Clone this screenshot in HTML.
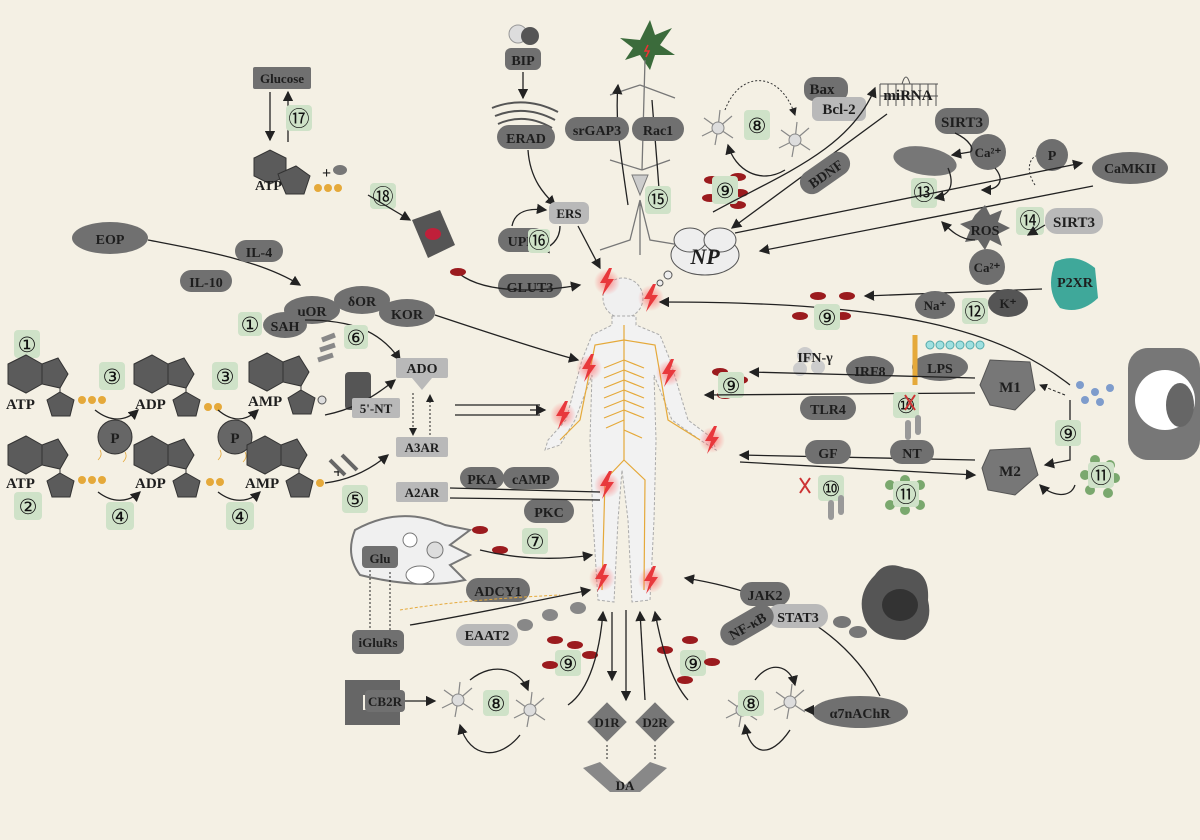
<!DOCTYPE html>
<html><head><meta charset="utf-8"><style>
html,body{margin:0;padding:0;background:#f4f0e4;}
svg{display:block}
text{font-family:"Liberation Serif",serif;font-weight:bold;fill:#1e1e1e;}
.pd{fill:#707070}
.pl{fill:#b9b9b9}
.g{fill:#cfe2c8}
.n{font-size:21px;font-weight:normal;fill:#111}
.a{stroke:#222;stroke-width:1.3;fill:none;marker-end:url(#ah)}
.l{stroke:#222;stroke-width:1.3;fill:none}
.rd{fill:#9b1b1e}
</style></head><body>
<svg width="1200" height="840" viewBox="0 0 1200 840" xmlns="http://www.w3.org/2000/svg">
<defs>
<marker id="ah" markerWidth="8" markerHeight="8" refX="7" refY="4" orient="auto"><path d="M0,0 L8,4 L0,8 z" fill="#222"/></marker>
<radialGradient id="glow"><stop offset="0" stop-color="#ff5a5a" stop-opacity=".7"/><stop offset="1" stop-color="#ff5a5a" stop-opacity="0"/></radialGradient>
<g id="bolt"><circle cx="0" cy="0" r="13" fill="url(#glow)"/><path d="M2,-14 L-7,1 L-1,1 L-5,14 L7,-3 L1,-3 L5,-14 z" fill="#e8383c"/></g>
<g id="nuc"><path d="M-18,-10 L0,-19 L16,-10 L16,10 L0,19 L-18,10z" fill="#5b5b5b" stroke="#333"/><path d="M16,-10 L32,-16 L42,0 L34,14 L16,10z" fill="#5b5b5b" stroke="#333"/><path d="M34,14 L34,22" stroke="#333"/><path d="M34,18 L48,26 L44,42 L26,42 L21,26z" fill="#5b5b5b" stroke="#333"/></g>
<g id="atp"><path d="M-16,-22 L0,-30 L16,-22 L16,-4 L0,4 L-16,-4z" fill="#5b5b5b" stroke="#333"/><path d="M8,-6 L26,-14 L40,-4 L34,14 L16,14 L10,0z" fill="#5b5b5b" stroke="#333"/></g>
<g id="rbc"><ellipse cx="0" cy="0" rx="8" ry="4" class="rd"/></g>
<g id="mg"><g stroke="#888" stroke-width="1.2" fill="none"><path d="M0,0 l-14,-10 M0,0 l14,-12 M0,0 l-16,8 M0,0 l15,10 M0,0 l2,-18 M0,0 l-3,17"/></g><circle r="6" fill="#ddd" stroke="#888"/></g>
</defs>
<rect width="1200" height="840" fill="#f4f0e4"/>

<!-- body -->
<g>
<circle cx="623" cy="298" r="20" fill="#f0f0f0" stroke="#aaa" stroke-dasharray="3 2"/>
<path d="M612,316 L612,325 L592,335 L582,360 L566,420 L548,440 L545,450 L560,445 L575,420 L592,375 L590,440 L593,520 L598,600 L614,602 L618,520 L622,470 L628,520 L632,602 L650,600 L654,520 L656,440 L654,375 L672,420 L700,440 L716,450 L712,438 L688,420 L670,360 L660,335 L636,325 L636,316 z" fill="#f2f2f2" stroke="#aaa" stroke-dasharray="3 2"/>
<g stroke="#e5a93a" stroke-width="1.2" fill="none">
<path d="M624,325 L624,460"/><path d="M624,340 L595,345 L580,420 L560,440"/><path d="M624,340 L655,345 L668,420 L700,440"/>
<path d="M624,460 L605,480 L602,590"/><path d="M624,460 L645,480 L644,590"/>
<path d="M624,360 l-20,8 M624,370 l20,8 M624,380 l-20,8 M624,390 l20,8 M624,400 l-20,8 M624,410 l20,8 M624,420 l-18,8 M624,430 l18,8 M624,360 l20,8 M624,380 l20,8 M624,400 l20,8 M624,370 l-20,8 M624,390 l-20,8 M624,410 l-20,8"/>
</g>
<use href="#bolt" x="607" y="282"/><use href="#bolt" x="651" y="298"/><use href="#bolt" x="589" y="368"/><use href="#bolt" x="669" y="373"/><use href="#bolt" x="563" y="415"/><use href="#bolt" x="712" y="440"/><use href="#bolt" x="607" y="485"/><use href="#bolt" x="602" y="578"/><use href="#bolt" x="651" y="580"/>
</g>

<!-- top neuron -->
<path d="M640,40 L650,20 L655,35 L672,28 L660,45 L675,55 L655,55 L650,70 L640,55 L625,60 L633,48 L620,38z" fill="#3b6b3b"/>
<path d="M648,45 l-3,6 l4,0 l-3,6" stroke="#e33" fill="none" stroke-width="1.5"/>
<g stroke="#777" fill="none" stroke-width="1.3"><path d="M645,60 L642,170 M642,170 L610,160 M642,170 L670,160 M640,85 L610,95 M640,85 L675,98 M640,200 L630,240 L600,250 M640,200 L650,240 L680,245 M640,200 L640,255"/></g>
<path d="M632,175 L648,175 L640,195z" fill="#ccc" stroke="#777"/>
<path class="a" d="M628,205 C620,150 615,120 618,85"/>
<path class="a" d="M652,100 C655,140 658,170 660,205"/>

<!-- BIP ERAD -->
<circle cx="518" cy="34" r="9" fill="#ddd" stroke="#999"/><circle cx="530" cy="36" r="9" fill="#555"/>
<rect x="505" y="48" width="36" height="22" rx="6" class="pd"/><text x="523" y="65" font-size="14" text-anchor="middle">BIP</text>
<path class="a" d="M523,72 L523,98"/>
<g stroke="#555" fill="none" stroke-width="2"><path d="M492,108 Q525,95 558,112 M495,116 Q525,104 555,120 M498,124 Q525,112 552,128"/></g>
<rect x="497" y="125" width="58" height="24" rx="12" class="pd"/><text x="526" y="143" font-size="14" text-anchor="middle">ERAD</text>
<rect x="565" y="117" width="64" height="24" rx="12" class="pd"/><text x="597" y="135" font-size="14" text-anchor="middle">srGAP3</text>
<rect x="632" y="117" width="52" height="24" rx="12" class="pd"/><text x="658" y="135" font-size="14" text-anchor="middle">Rac1</text>
<path class="a" d="M528,150 C530,180 545,195 555,205"/>
<rect x="549" y="202" width="40" height="22" rx="6" class="pl"/><text x="569" y="218" font-size="13" text-anchor="middle">ERS</text>
<rect x="498" y="228" width="48" height="24" rx="12" class="pd"/><text x="522" y="246" font-size="14" text-anchor="middle">UPR</text>
<path class="a" d="M512,226 C515,210 530,208 546,210"/>
<path class="a" d="M560,226 C560,240 550,248 540,250"/>
<rect x="528" y="229" width="22" height="24" rx="4" class="g"/><text x="539" y="248" class="n" text-anchor="middle">⑯</text>
<rect x="645" y="186" width="26" height="28" rx="4" class="g"/><text x="658" y="207" class="n" text-anchor="middle">⑮</text>
<path class="a" d="M578,226 L600,268"/>
<rect x="498" y="274" width="64" height="24" rx="12" class="pd"/><text x="530" y="292" font-size="14" text-anchor="middle">GLUT3</text>
<path class="a" d="M455,270 C480,295 540,292 580,285"/>

<!-- NP cloud -->
<ellipse cx="705" cy="255" rx="34" ry="20" fill="#eee" stroke="#555"/>
<ellipse cx="690" cy="240" rx="16" ry="12" fill="#eee" stroke="#555"/>
<ellipse cx="720" cy="240" rx="16" ry="12" fill="#eee" stroke="#555"/>
<text x="705" y="264" font-size="22" font-style="italic" text-anchor="middle">NP</text>
<circle cx="668" cy="275" r="4" fill="#eee" stroke="#555"/><circle cx="660" cy="283" r="3" fill="#eee" stroke="#555"/>

<!-- glucose ATP top left -->
<rect x="253" y="67" width="58" height="22" rx="2" class="pd"/><text x="282" y="83" font-size="13" text-anchor="middle">Glucose</text>
<path class="a" d="M270,92 L270,140"/><path class="a" d="M288,142 L288,92"/>
<rect x="286" y="105" width="26" height="26" rx="4" class="g"/><text x="299" y="126" class="n" text-anchor="middle">⑰</text>
<use href="#atp" x="270" y="180"/>
<text x="255" y="190" font-size="14">ATP</text>
<text x="322" y="178" font-size="16">+</text>
<g fill="#e5a93a"><circle cx="318" cy="188" r="4"/><circle cx="328" cy="188" r="4"/><circle cx="338" cy="188" r="4"/></g>
<ellipse cx="340" cy="170" rx="7" ry="5" fill="#777"/>
<rect x="370" y="183" width="26" height="26" rx="4" class="g"/><text x="383" y="204" class="n" text-anchor="middle">⑱</text>
<path class="a" d="M368,195 L410,220"/>
<path d="M412,220 L440,210 L455,245 L428,258z" fill="#555"/><ellipse cx="433" cy="234" rx="8" ry="6" fill="#c0203a"/>
<ellipse cx="458" cy="272" rx="8" ry="4" class="rd"/>

<!-- EOP / opioids -->
<ellipse cx="110" cy="238" rx="38" ry="16" class="pd"/><text x="110" y="244" font-size="14" text-anchor="middle">EOP</text>
<path class="a" d="M148,240 C200,250 260,260 300,285"/>
<rect x="235" y="240" width="48" height="22" rx="11" class="pd"/><text x="259" y="257" font-size="14" text-anchor="middle">IL-4</text>
<rect x="180" y="270" width="52" height="22" rx="11" class="pd"/><text x="206" y="287" font-size="14" text-anchor="middle">IL-10</text>
<ellipse cx="312" cy="310" rx="28" ry="14" class="pd"/><text x="312" y="316" font-size="14" text-anchor="middle">μOR</text>
<ellipse cx="362" cy="300" rx="28" ry="14" class="pd"/><text x="362" y="306" font-size="14" text-anchor="middle">δOR</text>
<ellipse cx="407" cy="313" rx="28" ry="14" class="pd"/><text x="407" y="319" font-size="14" text-anchor="middle">KOR</text>
<path class="a" d="M435,315 C480,330 540,350 578,360"/>

<!-- SAH, ADO -->
<rect x="238" y="312" width="24" height="24" rx="4" class="g"/><text x="250" y="332" class="n" text-anchor="middle">①</text>
<ellipse cx="285" cy="325" rx="22" ry="13" class="pd"/><text x="285" y="331" font-size="14" text-anchor="middle">SAH</text>
<path class="a" d="M305,320 C350,320 380,330 400,360"/>
<rect x="344" y="325" width="24" height="24" rx="4" class="g"/><text x="356" y="345" class="n" text-anchor="middle">⑥</text>
<path d="M322,340 L335,335 M320,350 L335,345 M318,360 L333,355" stroke="#888" stroke-width="5"/>
<rect x="345" y="372" width="26" height="38" rx="4" fill="#555"/>
<rect x="396" y="358" width="52" height="20" rx="2" class="pl"/><text x="422" y="373" font-size="14" text-anchor="middle">ADO</text>
<path d="M412,378 L432,378 L422,390z" fill="#b9b9b9"/>
<path class="a" d="M325,415 C350,410 370,400 395,380"/>
<rect x="352" y="398" width="48" height="20" rx="2" class="pl"/><text x="376" y="413" font-size="13" text-anchor="middle">5'-NT</text>
<path d="M413,393 L413,435" stroke="#222" stroke-dasharray="2 2" marker-end="url(#ah)"/><path d="M430,435 L430,395" stroke="#222" stroke-dasharray="2 2" marker-end="url(#ah)"/>
<rect x="396" y="437" width="52" height="20" rx="2" class="pl"/><text x="422" y="452" font-size="13" text-anchor="middle">A3AR</text>
<path class="l" d="M455,405 L540,405 M455,415 L540,415" /><path class="a" d="M530,410 L545,410"/>
<rect x="396" y="482" width="52" height="20" rx="2" class="pl"/><text x="422" y="497" font-size="13" text-anchor="middle">A2AR</text>
<rect x="460" y="467" width="44" height="22" rx="11" class="pd"/><text x="482" y="484" font-size="14" text-anchor="middle">PKA</text>
<rect x="503" y="467" width="56" height="22" rx="11" class="pd"/><text x="531" y="484" font-size="14" text-anchor="middle">cAMP</text>
<rect x="524" y="499" width="50" height="24" rx="12" class="pd"/><text x="549" y="517" font-size="14" text-anchor="middle">PKC</text>
<path class="l" d="M450,488 L600,492 M450,498 L600,500"/>

<!-- left nucleotide rows -->
<rect x="14" y="330" width="26" height="28" rx="4" class="g"/><text x="27" y="352" class="n" text-anchor="middle">①</text>
<use href="#nuc" x="26" y="374"/><text x="6" y="409" font-size="15">ATP</text>
<g fill="#e5a93a"><circle cx="82" cy="400" r="4"/><circle cx="92" cy="400" r="4"/><circle cx="102" cy="400" r="4"/></g>
<rect x="99" y="362" width="26" height="28" rx="4" class="g"/><text x="112" y="384" class="n" text-anchor="middle">③</text>
<use href="#nuc" x="152" y="374"/><text x="135" y="409" font-size="15">ADP</text>
<circle cx="208" cy="407" r="4" fill="#e5a93a"/><circle cx="218" cy="407" r="4" fill="#e5a93a"/>
<rect x="212" y="362" width="26" height="28" rx="4" class="g"/><text x="225" y="384" class="n" text-anchor="middle">③</text>
<use href="#nuc" x="267" y="372"/><text x="248" y="406" font-size="15">AMP</text>
<circle cx="322" cy="400" r="4" fill="#ddd" stroke="#555"/>
<circle cx="115" cy="437" r="17" fill="#666" stroke="#333"/><text x="115" y="443" font-size="15" text-anchor="middle">P</text>
<circle cx="235" cy="437" r="17" fill="#666" stroke="#333"/><text x="235" y="443" font-size="15" text-anchor="middle">P</text>
<path class="a" d="M95,410 C110,422 125,422 138,410"/><path class="a" d="M218,410 C232,422 245,422 258,410"/>
<g stroke="#e5a93a" stroke-width=".8" fill="none"><path d="M100,450 q3,5 -2,10 M125,452 q3,5 -2,10 M220,450 q3,5 -2,10 M245,452 q3,5 -2,10"/></g>
<use href="#nuc" x="26" y="455"/><text x="6" y="488" font-size="15">ATP</text>
<g fill="#e5a93a"><circle cx="82" cy="480" r="4"/><circle cx="92" cy="480" r="4"/><circle cx="102" cy="480" r="4"/></g>
<rect x="14" y="492" width="28" height="28" rx="4" class="g"/><text x="28" y="514" class="n" text-anchor="middle">②</text>
<use href="#nuc" x="152" y="455"/><text x="135" y="488" font-size="15">ADP</text>
<circle cx="210" cy="482" r="4" fill="#e5a93a"/><circle cx="220" cy="482" r="4" fill="#e5a93a"/>
<use href="#nuc" x="265" y="455"/><text x="245" y="488" font-size="15">AMP</text>
<circle cx="320" cy="483" r="4" fill="#e5a93a"/>
<rect x="106" y="502" width="28" height="28" rx="4" class="g"/><text x="120" y="524" class="n" text-anchor="middle">④</text>
<rect x="226" y="502" width="28" height="28" rx="4" class="g"/><text x="240" y="524" class="n" text-anchor="middle">④</text>
<path class="a" d="M98,492 C112,503 128,503 140,492"/><path class="a" d="M218,492 C232,503 248,503 260,492"/>
<text x="333" y="478" font-size="18">+</text>
<path d="M330,460 L345,475 M342,455 L357,470" stroke="#666" stroke-width="4"/>
<rect x="342" y="485" width="26" height="28" rx="4" class="g"/><text x="355" y="507" class="n" text-anchor="middle">⑤</text>
<path class="a" d="M325,483 C350,480 370,470 388,455"/>

<!-- Glu cell -->
<path d="M355,530 Q400,505 445,525 L470,530 L450,545 L470,555 L450,565 L465,580 Q420,590 360,575 Q345,555 355,530z" fill="#f0f0f0" stroke="#777" stroke-width="2"/>
<circle cx="410" cy="540" r="7" fill="#fff" stroke="#777"/><circle cx="435" cy="550" r="8" fill="#ddd" stroke="#777"/><ellipse cx="420" cy="575" rx="14" ry="9" fill="#fff" stroke="#777"/>
<rect x="362" y="546" width="36" height="22" rx="4" class="pd"/><text x="380" y="563" font-size="13" text-anchor="middle">Glu</text>
<path d="M370,570 L370,630 M390,630 L390,570" stroke="#222" stroke-dasharray="2 2"/>
<rect x="352" y="630" width="52" height="24" rx="6" class="pd"/><text x="378" y="647" font-size="13" text-anchor="middle">iGluRs</text>
<rect x="522" y="528" width="26" height="26" rx="4" class="g"/><text x="535" y="549" class="n" text-anchor="middle">⑦</text>
<ellipse cx="480" cy="530" rx="8" ry="4" class="rd"/><ellipse cx="500" cy="550" rx="8" ry="4" class="rd"/>
<path class="a" d="M480,550 C520,560 560,560 592,555"/>
<rect x="466" y="578" width="64" height="24" rx="12" class="pd"/><text x="498" y="596" font-size="14" text-anchor="middle">ADCY1</text>
<path d="M400,610 Q460,600 560,595" stroke="#e5a93a" stroke-dasharray="3 2" fill="none"/>
<path class="a" d="M410,625 C470,615 540,600 590,590"/>
<rect x="456" y="624" width="62" height="22" rx="11" class="pl"/><text x="487" y="640" font-size="14" text-anchor="middle">EAAT2</text>
<ellipse cx="525" cy="625" rx="8" ry="6" fill="#888"/><ellipse cx="550" cy="615" rx="8" ry="6" fill="#888"/><ellipse cx="578" cy="608" rx="8" ry="6" fill="#888"/>

<!-- bottom left -->
<path d="M345,680 L400,680 L400,695 L363,695 L363,710 L400,710 L400,725 L345,725z" fill="#666"/>
<rect x="365" y="690" width="40" height="22" rx="4" class="pd"/><text x="385" y="706" font-size="13" text-anchor="middle">CB2R</text>
<path class="a" d="M405,701 L435,701"/>
<use href="#mg" x="458" y="700"/>
<rect x="483" y="690" width="26" height="26" rx="4" class="g"/><text x="496" y="711" class="n" text-anchor="middle">⑧</text>
<use href="#mg" x="530" y="710"/>
<path class="a" d="M470,680 C495,660 520,670 528,690"/><path class="a" d="M520,735 C500,760 470,760 460,725"/>
<rect x="555" y="650" width="26" height="26" rx="4" class="g"/><text x="568" y="671" class="n" text-anchor="middle">⑨</text>
<use href="#rbc" x="555" y="640"/><use href="#rbc" x="575" y="645"/><use href="#rbc" x="590" y="655"/><use href="#rbc" x="550" y="665"/>
<path class="a" d="M568,705 C590,690 600,650 603,612"/>
<path class="a" d="M626,610 L626,700"/><path class="a" d="M645,700 L640,612"/><path class="a" d="M612,612 L612,680"/>
<rect x="593" y="708" width="28" height="28" transform="rotate(45 607 722)" fill="#777"/><text x="607" y="727" font-size="13" text-anchor="middle">D1R</text>
<rect x="641" y="708" width="28" height="28" transform="rotate(45 655 722)" fill="#777"/><text x="655" y="727" font-size="13" text-anchor="middle">D2R</text>
<path d="M607,745 L607,760 M655,745 L655,760" stroke="#222" stroke-dasharray="2 2"/>
<path d="M583,768 L600,762 L625,785 L650,762 L667,768 L640,792 L610,792z" fill="#888"/>
<text x="625" y="790" font-size="13" text-anchor="middle">DA</text>

<!-- bottom right -->
<rect x="680" y="650" width="26" height="26" rx="4" class="g"/><text x="693" y="671" class="n" text-anchor="middle">⑨</text>
<use href="#rbc" x="665" y="650"/><use href="#rbc" x="690" y="640"/><use href="#rbc" x="712" y="662"/><use href="#rbc" x="685" y="680"/>
<path class="a" d="M688,700 C670,680 660,640 655,612"/>
<use href="#mg" x="742" y="710"/>
<rect x="738" y="690" width="26" height="26" rx="4" class="g"/><text x="751" y="711" class="n" text-anchor="middle">⑧</text>
<use href="#mg" x="790" y="702"/>
<path class="a" d="M755,680 C770,660 790,665 795,685"/><path class="a" d="M790,730 C770,760 750,755 745,725"/>
<ellipse cx="860" cy="712" rx="48" ry="16" class="pd"/><text x="860" y="718" font-size="14" text-anchor="middle">α7nAChR</text>
<path class="a" d="M812,710 L805,710"/>
<path class="a" d="M880,696 C840,620 760,590 685,578"/>
<rect x="740" y="582" width="50" height="24" rx="12" class="pd"/><text x="765" y="600" font-size="14" text-anchor="middle">JAK2</text>
<rect x="768" y="604" width="60" height="24" rx="12" class="pl"/><text x="798" y="622" font-size="14" text-anchor="middle">STAT3</text>
<rect x="718" y="613" width="58" height="24" rx="12" transform="rotate(-30 747 625)" class="pd"/><text x="747" y="631" font-size="14" text-anchor="middle" transform="rotate(-30 747 625)">NF-κB</text>
<path d="M875,575 Q885,560 905,568 Q930,570 928,600 Q935,630 905,640 Q875,640 865,620 Q855,595 875,575z" fill="#555"/>
<ellipse cx="900" cy="605" rx="18" ry="16" fill="#333"/>
<ellipse cx="842" cy="622" rx="9" ry="6" fill="#777"/><ellipse cx="858" cy="632" rx="9" ry="6" fill="#777"/>

<!-- right middle -->
<path class="a" d="M1070,385 C1000,330 900,302 660,302"/>
<use href="#rbc" x="818" y="296"/><use href="#rbc" x="847" y="296"/><use href="#rbc" x="800" y="316"/><use href="#rbc" x="843" y="316"/>
<rect x="814" y="304" width="26" height="26" rx="4" class="g"/><text x="827" y="325" class="n" text-anchor="middle">⑨</text>
<path class="a" d="M1042,289 L865,296"/>
<circle cx="987" cy="267" r="18" fill="#6e6e6e"/><text x="987" y="272" font-size="13" text-anchor="middle">Ca²⁺</text>
<path d="M1055,262 Q1075,252 1095,268 L1098,298 Q1080,315 1060,308 Q1045,290 1055,262z" fill="#3fa89a"/>
<text x="1075" y="287" font-size="14" text-anchor="middle">P2XR</text>
<ellipse cx="935" cy="305" rx="20" ry="14" fill="#6e6e6e"/><text x="935" y="310" font-size="13" text-anchor="middle">Na⁺</text>
<rect x="962" y="298" width="26" height="26" rx="4" class="g"/><text x="975" y="319" class="n" text-anchor="middle">⑫</text>
<ellipse cx="1008" cy="303" rx="20" ry="14" fill="#555"/><text x="1008" y="308" font-size="13" text-anchor="middle">K⁺</text>
<circle cx="805" cy="355" r="8" fill="#ccc"/><circle cx="818" cy="367" r="7" fill="#ccc"/><circle cx="800" cy="369" r="7" fill="#ccc"/>
<text x="815" y="362" font-size="14" text-anchor="middle" fill="#333">IFN-γ</text>
<ellipse cx="870" cy="370" rx="24" ry="14" class="pd"/><text x="870" y="376" font-size="14" text-anchor="middle">IRF8</text>
<ellipse cx="940" cy="367" rx="28" ry="14" class="pd"/><text x="940" y="373" font-size="14" text-anchor="middle">LPS</text>
<path d="M915,335 L915,385" stroke="#e5a93a" stroke-width="5"/>
<g fill="#9ee0e0" stroke="#5aa"><circle cx="930" cy="345" r="4"/><circle cx="940" cy="345" r="4"/><circle cx="950" cy="345" r="4"/><circle cx="960" cy="345" r="4"/><circle cx="970" cy="345" r="4"/><circle cx="980" cy="345" r="4"/></g>
<path class="a" d="M975,378 L750,372"/>
<use href="#rbc" x="720" y="372"/><use href="#rbc" x="740" y="380"/><use href="#rbc" x="725" y="395"/>
<rect x="718" y="372" width="26" height="26" rx="4" class="g"/><text x="731" y="393" class="n" text-anchor="middle">⑨</text>
<path class="a" d="M975,393 L705,395"/>
<rect x="800" y="396" width="56" height="24" rx="12" class="pd"/><text x="828" y="414" font-size="14" text-anchor="middle">TLR4</text>
<rect x="893" y="392" width="26" height="26" rx="4" class="g"/><text x="906" y="413" class="n" text-anchor="middle">⑩</text>
<path d="M905,395 l10,15 M915,395 l-10,15" stroke="#c33" stroke-width="2"/>
<rect x="905" y="420" width="6" height="20" rx="3" fill="#999"/><rect x="915" y="415" width="6" height="20" rx="3" fill="#999"/>
<path d="M990,360 L1030,362 L1035,390 L1015,410 L990,405 L980,385z" fill="#777" stroke="#555"/><text x="1010" y="392" font-size="15" text-anchor="middle">M1</text>
<path d="M990,450 L1030,448 L1038,475 L1015,495 L988,490 L982,468z" fill="#777" stroke="#555"/><text x="1010" y="476" font-size="15" text-anchor="middle">M2</text>
<g fill="#7e9ccc"><circle cx="1080" cy="385" r="4"/><circle cx="1095" cy="392" r="4"/><circle cx="1110" cy="388" r="4"/><circle cx="1100" cy="402" r="4"/><circle cx="1085" cy="400" r="4"/></g>
<path d="M1065,395 L1040,385" stroke="#222" stroke-dasharray="3 2" marker-end="url(#ah)"/>
<path class="a" d="M1070,400 L1070,460 L1045,465"/>
<rect x="1055" y="420" width="26" height="26" rx="4" class="g"/><text x="1068" y="441" class="n" text-anchor="middle">⑨</text>
<rect x="1128" y="348" width="72" height="112" rx="20" fill="#777"/>
<circle cx="1165" cy="400" r="30" fill="#fff"/><ellipse cx="1180" cy="405" rx="14" ry="22" fill="#666"/>
<g fill="#7aa86e"><circle cx="1095" cy="460" r="5"/><circle cx="1110" cy="465" r="5"/><circle cx="1085" cy="475" r="5"/><circle cx="1100" cy="480" r="5"/><circle cx="1115" cy="478" r="5"/><circle cx="1090" cy="490" r="5"/><circle cx="1108" cy="493" r="5"/></g>
<rect x="1088" y="462" width="26" height="26" rx="4" class="g"/><text x="1101" y="483" class="n" text-anchor="middle">⑪</text>
<path class="a" d="M1075,485 C1070,500 1050,495 1040,485"/>
<path class="a" d="M975,460 L740,455"/><path class="a" d="M740,462 L975,475"/>
<rect x="805" y="440" width="46" height="24" rx="12" class="pd"/><text x="828" y="458" font-size="14" text-anchor="middle">GF</text>
<rect x="890" y="440" width="44" height="24" rx="12" class="pd"/><text x="912" y="458" font-size="14" text-anchor="middle">NT</text>
<rect x="818" y="475" width="26" height="26" rx="4" class="g"/><text x="831" y="496" class="n" text-anchor="middle">⑩</text>
<path d="M800,478 l10,15 M810,478 l-10,15" stroke="#c33" stroke-width="2"/>
<rect x="828" y="500" width="6" height="20" rx="3" fill="#999"/><rect x="838" y="495" width="6" height="20" rx="3" fill="#999"/>
<g fill="#7aa86e"><circle cx="890" cy="485" r="5"/><circle cx="905" cy="480" r="5"/><circle cx="920" cy="485" r="5"/><circle cx="890" cy="505" r="5"/><circle cx="905" cy="510" r="5"/><circle cx="920" cy="505" r="5"/></g>
<rect x="893" y="481" width="26" height="26" rx="4" class="g"/><text x="906" y="502" class="n" text-anchor="middle">⑪</text>

<!-- top right -->
<use href="#mg" x="718" y="128"/><use href="#mg" x="795" y="140"/>
<rect x="744" y="110" width="26" height="30" rx="4" class="g"/><text x="757" y="133" class="n" text-anchor="middle">⑧</text>
<path d="M725,110 C740,70 780,70 795,115" stroke="#333" stroke-dasharray="2 2" fill="none" marker-end="url(#ah)"/>
<path class="a" d="M785,170 C760,185 735,170 728,145"/>
<use href="#rbc" x="712" y="180"/><use href="#rbc" x="738" y="177"/><use href="#rbc" x="710" y="198"/><use href="#rbc" x="740" y="193"/><use href="#rbc" x="738" y="205"/>
<rect x="712" y="176" width="26" height="28" rx="4" class="g"/><text x="725" y="198" class="n" text-anchor="middle">⑨</text>
<rect x="804" y="77" width="44" height="24" rx="10" class="pd"/><text x="822" y="94" font-size="15" text-anchor="middle">Bax</text>
<rect x="812" y="97" width="54" height="24" rx="6" class="pl"/><text x="839" y="114" font-size="15" text-anchor="middle">Bcl-2</text>
<path d="M880,96 L938,96 M880,84 L938,84 M880,84 L880,106 M888,84 L888,106 M896,84 L896,106 M904,84 L904,106 M912,84 L912,106 M920,84 L920,106 M928,84 L928,106 M936,84 L936,106 M902,84 Q906,70 910,84" stroke="#555" fill="none"/>
<text x="908" y="100" font-size="15" text-anchor="middle">miRNA</text>
<path class="a" d="M713,212 C780,175 850,150 875,88"/>
<path class="a" d="M887,114 L732,228"/>
<rect x="797" y="161" width="56" height="24" rx="12" transform="rotate(-35 825 173)" class="pd"/><text x="825" y="179" font-size="14" text-anchor="middle" transform="rotate(-35 825 173)">BDNF</text>
<rect x="935" y="108" width="54" height="26" rx="12" class="pd"/><text x="962" y="127" font-size="15" text-anchor="middle">SIRT3</text>
<ellipse cx="925" cy="161" rx="32" ry="14" fill="#777" transform="rotate(10 925 161)"/>
<circle cx="988" cy="152" r="18" fill="#6e6e6e"/><text x="988" y="157" font-size="13" text-anchor="middle">Ca²⁺</text>
<circle cx="1052" cy="155" r="16" fill="#6e6e6e"/><text x="1052" y="160" font-size="14" text-anchor="middle">P</text>
<ellipse cx="1130" cy="168" rx="38" ry="16" class="pd"/><text x="1130" y="173" font-size="14" text-anchor="middle">CaMKII</text>
<rect x="911" y="178" width="26" height="30" rx="4" class="g"/><text x="924" y="200" class="n" text-anchor="middle">⑬</text>
<path class="a" d="M735,233 L1082,163"/><path class="a" d="M1093,186 L760,251"/>
<path class="a" d="M955,133 C970,140 975,150 970,152 L952,155"/>
<path class="a" d="M995,168 C1005,180 1000,190 982,190"/>
<path class="a" d="M948,168 C955,185 950,195 935,198"/>
<path d="M1035,185 C1025,170 1030,158 1036,156" stroke="#333" stroke-dasharray="2 2" fill="none"/>
<path d="M975,215 L985,205 L990,215 L1002,210 L998,222 L1010,228 L998,234 L1002,246 L990,240 L985,250 L978,240 L965,242 L970,230 L960,224 L972,220z" fill="#666"/>
<text x="985" y="235" font-size="14" text-anchor="middle">ROS</text>
<path class="a" d="M975,240 C960,240 950,230 942,222"/>
<rect x="1016" y="207" width="28" height="28" rx="4" class="g"/><text x="1030" y="228" class="n" text-anchor="middle">⑭</text>
<rect x="1045" y="208" width="58" height="26" rx="12" class="pl"/><text x="1074" y="227" font-size="15" text-anchor="middle">SIRT3</text>
<path class="a" d="M1045,225 L1028,235"/>
</svg>
</body></html>
